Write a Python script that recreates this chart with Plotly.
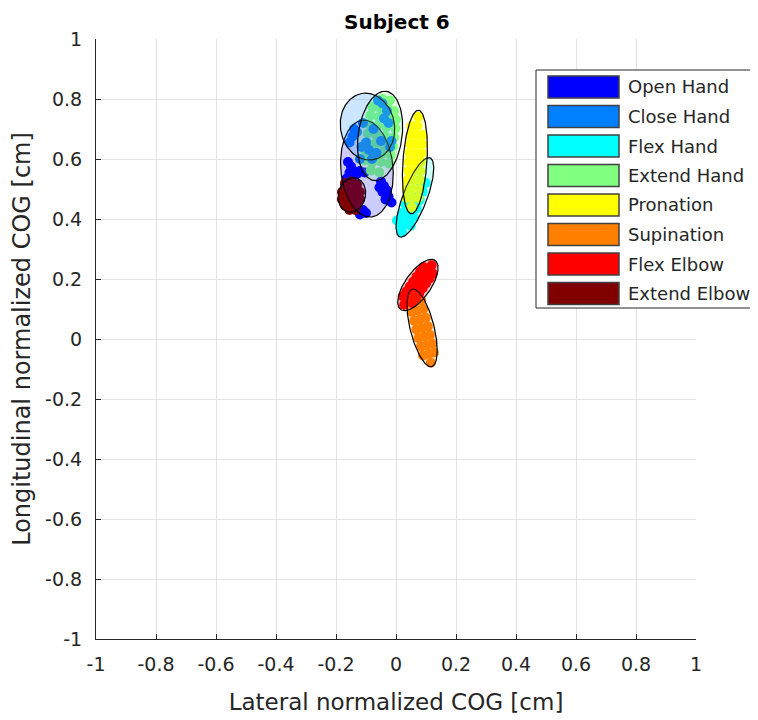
import numpy as np
import plotly.graph_objects as go

classes = ["Open Hand", "Close Hand", "Flex Hand", "Extend Hand",
           "Pronation", "Supination", "Flex Elbow", "Extend Elbow"]
colors = ["#0000ff", "#0080ff", "#00ffff", "#80ff80",
          "#ffff00", "#ff8000", "#ff0000", "#800000"]

# ---- scatter clouds (lateral x, longitudinal y) ----
open_hand_x = [-0.160, -0.150, -0.155, -0.140, -0.130, -0.120, -0.105, -0.165, -0.145,
               -0.050, -0.040, -0.030, -0.045, -0.025, -0.035, -0.015, -0.055,
               -0.110, -0.100, -0.120, -0.170]
open_hand_y = [0.590, 0.575, 0.555, 0.560, 0.550, 0.560, 0.555, 0.535, 0.540,
               0.525, 0.510, 0.495, 0.490, 0.475, 0.465, 0.455, 0.505,
               0.430, 0.420, 0.415, 0.515]

close_hand_x = [-0.060, -0.045, -0.030, -0.040, -0.025, -0.015, -0.020, -0.100, -0.115, -0.090,
                -0.130, -0.145, -0.140, -0.075, -0.065, -0.080, -0.110, -0.050, -0.155, -0.120]
close_hand_y = [0.795, 0.785, 0.760, 0.735, 0.720, 0.660, 0.640, 0.655, 0.640, 0.630,
                0.690, 0.675, 0.700, 0.700, 0.620, 0.600, 0.720, 0.660, 0.655, 0.600]

flex_hand_x = [0.020, 0.030, 0.011, 0.049, 0.040, 0.021, 0.059, 0.050, 0.031, 0.069,
               0.060, 0.079, 0.089, 0.080, 0.099, 0.003, 0.015]
flex_hand_y = [0.357, 0.385, 0.392, 0.378, 0.413, 0.420, 0.406, 0.442, 0.449, 0.435,
               0.470, 0.463, 0.491, 0.527, 0.520, 0.395, 0.370]

extend_hand_x = [-0.056, -0.084,
                 -0.022, -0.050, -0.080, -0.104,
                 -0.018, -0.046, -0.076, -0.100,
                 -0.010, -0.040, -0.070, -0.097,
                 -0.006, -0.036, -0.066, -0.094,
                 -0.002, -0.032, -0.062, -0.090,
                 0.000, -0.028, -0.057, -0.085,
                 -0.006, -0.026, -0.053, -0.078,
                 -0.020, -0.045]
extend_hand_y = [0.556, 0.562,
                 0.584, 0.590, 0.588, 0.596,
                 0.613, 0.618, 0.622, 0.627,
                 0.642, 0.645, 0.650, 0.656,
                 0.672, 0.676, 0.680, 0.686,
                 0.702, 0.706, 0.710, 0.716,
                 0.731, 0.735, 0.740, 0.745,
                 0.760, 0.766, 0.770, 0.773,
                 0.795, 0.800]

pronation_x = [0.052, 0.035, 0.055, 0.075, 0.037, 0.057, 0.077, 0.039, 0.059, 0.079,
               0.041, 0.061, 0.081, 0.043, 0.063, 0.083, 0.045, 0.065, 0.085,
               0.047, 0.067, 0.087, 0.049, 0.069, 0.089, 0.051, 0.071, 0.074]
pronation_y = [0.440, 0.470, 0.470, 0.470, 0.500, 0.500, 0.500, 0.530, 0.530, 0.530,
               0.560, 0.560, 0.560, 0.590, 0.590, 0.590, 0.620, 0.620, 0.620,
               0.650, 0.650, 0.650, 0.680, 0.680, 0.680, 0.710, 0.710, 0.740]

supination_x = [0.116, 0.109, 0.090, 0.126, 0.102, 0.083, 0.121, 0.094, 0.075, 0.113,
                0.087, 0.068, 0.106, 0.080, 0.061, 0.099, 0.072, 0.053, 0.091,
                0.065, 0.084, 0.058]
supination_y = [-0.079, -0.050, -0.055, -0.045, -0.021, -0.026, -0.016, 0.008, 0.003, 0.013,
                0.037, 0.032, 0.042, 0.066, 0.061, 0.071, 0.095, 0.090, 0.100,
                0.124, 0.129, 0.153]

flex_elbow_x = [0.027, 0.055, 0.039, 0.023, 0.066, 0.050, 0.034, 0.078, 0.062, 0.046,
                0.089, 0.073, 0.057, 0.100, 0.084, 0.068, 0.112, 0.096, 0.080,
                0.123, 0.107, 0.091, 0.119]
flex_elbow_y = [0.114, 0.120, 0.131, 0.142, 0.136, 0.147, 0.158, 0.153, 0.164, 0.175,
                0.169, 0.180, 0.191, 0.185, 0.196, 0.207, 0.202, 0.213, 0.224,
                0.218, 0.229, 0.240, 0.246]

extend_elbow_x = [-0.170, -0.150, -0.130, -0.180, -0.160, -0.140, -0.120, -0.180, -0.160,
                  -0.140, -0.120, -0.170, -0.150, -0.130, -0.155, -0.135]
extend_elbow_y = [0.520, 0.525, 0.515, 0.490, 0.495, 0.495, 0.490, 0.465, 0.470,
                  0.470, 0.465, 0.445, 0.445, 0.445, 0.430, 0.430]

clouds_x = [open_hand_x, close_hand_x, flex_hand_x, extend_hand_x,
            pronation_x, supination_x, flex_elbow_x, extend_elbow_x]
clouds_y = [open_hand_y, close_hand_y, flex_hand_y, extend_hand_y,
            pronation_y, supination_y, flex_elbow_y, extend_elbow_y]

# ---- confidence ellipses: centre, semi-axes, major-axis angle (deg) ----
ell_cx = [-0.097, -0.095, 0.063, -0.053, 0.063, 0.087, 0.073, -0.147]
ell_cy = [0.568, 0.708, 0.472, 0.677, 0.590, 0.037, 0.180, 0.480]
ell_a = [0.162, 0.112, 0.141, 0.150, 0.173, 0.133, 0.100, 0.058]
ell_b = [0.087, 0.090, 0.040, 0.073, 0.040, 0.040, 0.043, 0.045]
ell_ang = [95, 100, 69, 82, 86, 104, 55, 75]

tick_vals = [-1, -0.8, -0.6, -0.4, -0.2, 0, 0.2, 0.4, 0.6, 0.8, 1]
tick_text = ["-1", "-0.8", "-0.6", "-0.4", "-0.2", "0", "0.2", "0.4", "0.6", "0.8", "1"]

FONT = "DejaVu Sans"
TXT = "#262626"


def rgba(hexc, a):
    h = hexc.lstrip("#")
    r, g, b = int(h[0:2], 16), int(h[2:4], 16), int(h[4:6], 16)
    return f"rgba({r},{g},{b},{a})"


fig = go.Figure()

draw_order = [0, 3, 1, 2, 4, 5, 6, 7]
for i in draw_order:
    fig.add_trace(go.Scatter(
        x=clouds_x[i], y=clouds_y[i], mode="markers", name=classes[i],
        marker=dict(color=colors[i], size=10, line=dict(width=0)),
        showlegend=False, hoverinfo="skip"))

th = np.linspace(0, 2 * np.pi, 181)
for i in range(len(classes)):
    ang = np.deg2rad(ell_ang[i])
    ex = ell_a[i] * np.cos(th)
    ey = ell_b[i] * np.sin(th)
    xs = ell_cx[i] + ex * np.cos(ang) - ey * np.sin(ang)
    ys = ell_cy[i] + ex * np.sin(ang) + ey * np.cos(ang)
    fig.add_trace(go.Scatter(
        x=xs, y=ys, mode="lines", fill="toself",
        fillcolor=rgba(colors[i], 0.2),
        line=dict(color="black", width=1.2),
        showlegend=False, hoverinfo="skip"))

# The page body adds an 8 px offset; the figure is sized to compensate.
OFF = 8
FW, FH = 758 - OFF, 720 - OFF
L, T = 96 - OFF, 39 - OFF
W = H = 600


def px(xp):
    return (xp - OFF - L) / W


def py(yp):
    return (T + H - (yp - OFF)) / H


shapes = [dict(type="rect", xref="paper", yref="paper",
               x0=px(536), x1=px(757), y0=py(308), y1=py(70),
               line=dict(color=TXT, width=1), fillcolor="white", layer="above")]
annotations = [dict(text="<b>Subject 6</b>", xref="paper", yref="paper",
                    x=px(397), y=py(8.5), xanchor="center", yanchor="top",
                    showarrow=False, borderpad=0,
                    font=dict(family=FONT, size=20, color="black"))]
for i, name in enumerate(classes):
    yc = 87 + 29.5 * i
    shapes.append(dict(type="rect", xref="paper", yref="paper",
                       x0=px(548), x1=px(619), y0=py(yc + 11), y1=py(yc - 11),
                       line=dict(color="#404040", width=1.5),
                       fillcolor=colors[i], layer="above"))
    annotations.append(dict(text=name, xref="paper", yref="paper",
                            x=px(626), y=py(yc), xanchor="left", yanchor="middle",
                            showarrow=False, font=dict(family=FONT, size=18, color=TXT)))

axis_common = dict(
    range=[-1, 1], tickvals=tick_vals, ticktext=tick_text,
    showgrid=True, gridcolor="#e3e3e3", gridwidth=1,
    zeroline=False, showline=True, linecolor=TXT, linewidth=1, mirror=False,
    ticks="inside", ticklen=5, tickcolor=TXT,
    tickfont=dict(family=FONT, size=19, color=TXT),
    automargin=False, fixedrange=True)

fig.update_layout(
    width=FW, height=FH,
    margin=dict(l=L, r=FW - L - W, t=T, b=FH - T - H),
    paper_bgcolor="white", plot_bgcolor="white",
    xaxis=dict(**axis_common, ticklabelstandoff=8,
               title=dict(text="Lateral normalized COG [cm]", standoff=20,
                          font=dict(family=FONT, size=23, color=TXT))),
    yaxis=dict(**axis_common, ticklabelstandoff=9,
               title=dict(text="Longitudinal normalized COG [cm]", standoff=8,
                          font=dict(family=FONT, size=24, color=TXT))),
    shapes=shapes, annotations=annotations, showlegend=False)

fig.write_html("out.html")
